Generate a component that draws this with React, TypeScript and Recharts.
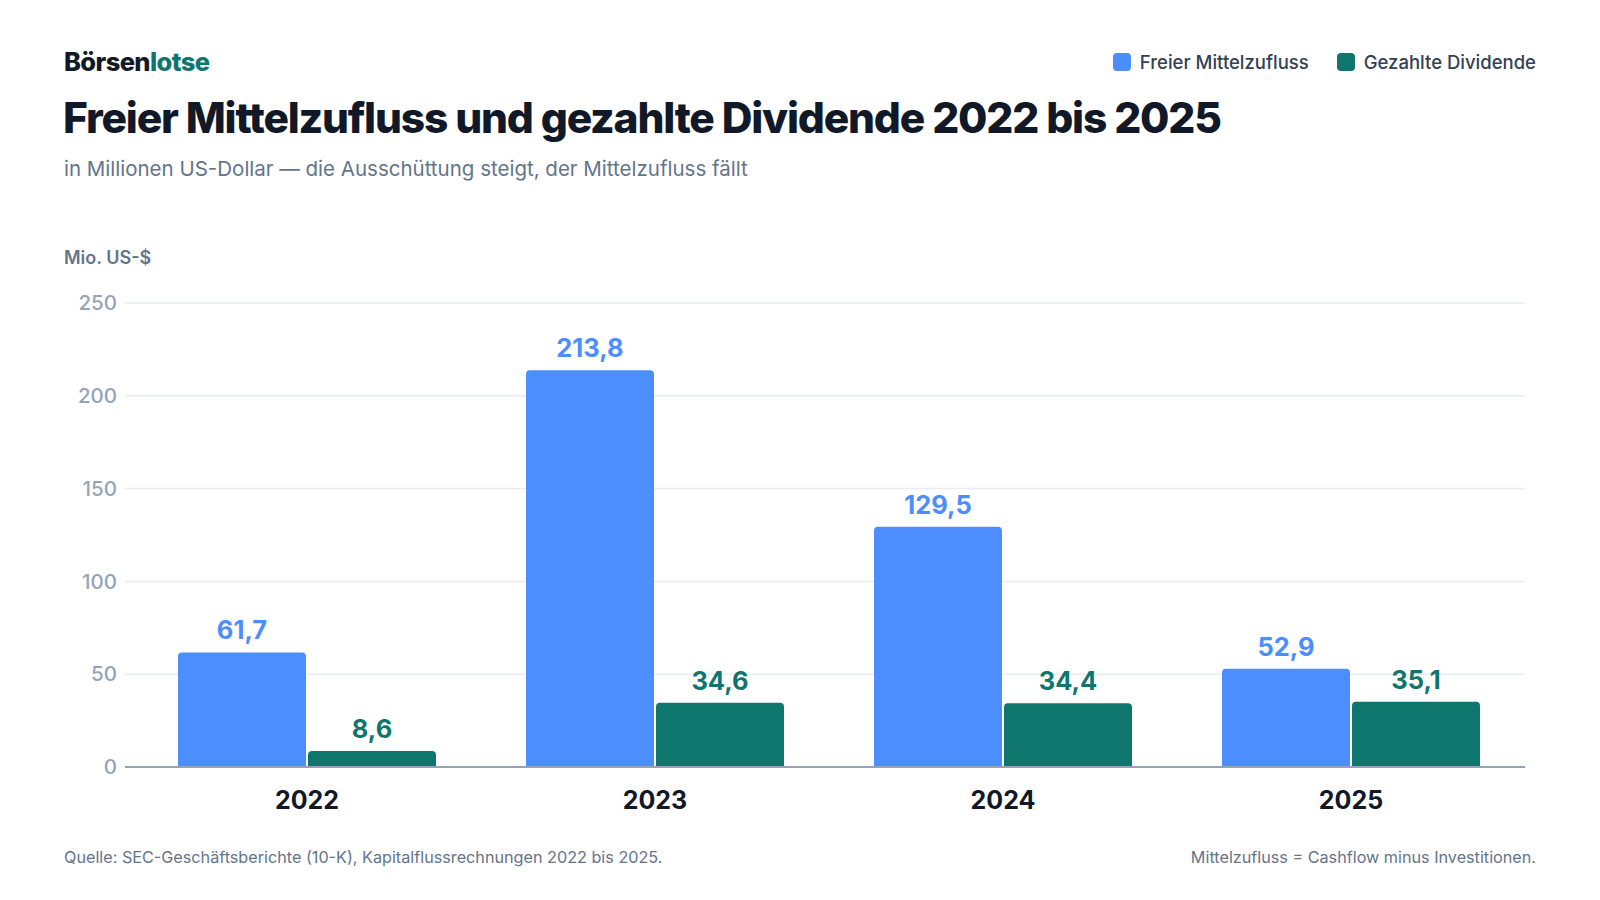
import { Bar, BarChart, CartesianGrid, LabelList, XAxis, YAxis } from "recharts";

const years = ["2022", "2023", "2024", "2025"];
const freeCashflow = [61.7, 213.8, 129.5, 52.9];
const dividends = [8.6, 34.6, 34.4, 35.1];
const yTicks = [0, 50, 100, 150, 200, 250];

const BLUE = "#4c8dff";
const GREEN = "#0f766e";
const FONT = "Inter, 'Noto Sans', sans-serif";

const data = years.map((year, i) => ({
  year,
  fcf: freeCashflow[i],
  div: dividends[i],
}));

const fmt = (v: number) => v.toFixed(1).replace(".", ",");

function LegendItem({ color, label }: { color: string; label: string }) {
  return (
    <div style={{ display: "flex", alignItems: "center", gap: 9 }}>
      <div style={{ width: 18, height: 18, borderRadius: 4, background: color }} />
      <span style={{ fontSize: 18.5, fontWeight: 500, color: "#334155" }}>{label}</span>
    </div>
  );
}

export default function App() {
  return (
    <div
      style={{
        position: "absolute",
        left: 0,
        top: 0,
        width: 1600,
        height: 900,
        background: "#ffffff",
        fontFamily: FONT,
        overflow: "hidden",
      }}
    >
      <div style={{ position: "absolute", left: 64, top: 46, fontSize: 25.5, fontWeight: 800, letterSpacing: -0.6, color: "#111827" }}>
        Börsen<span style={{ color: GREEN }}>lotse</span>
      </div>
      <div style={{ position: "absolute", right: 64, top: 51, display: "flex", gap: 28 }}>
        <LegendItem color={BLUE} label="Freier Mittelzufluss" />
        <LegendItem color={GREEN} label="Gezahlte Dividende" />
      </div>
      <div style={{ position: "absolute", left: 63, top: 92, fontSize: 42.5, fontWeight: 800, letterSpacing: -1.2, color: "#111827" }}>
        Freier Mittelzufluss und gezahlte Dividende 2022 bis 2025
      </div>
      <div style={{ position: "absolute", left: 64, top: 156, fontSize: 20.5, color: "#64748b" }}>
        in Millionen US-Dollar — die Ausschüttung steigt, der Mittelzufluss fällt
      </div>
      <div style={{ position: "absolute", left: 64, top: 247, fontSize: 18, fontWeight: 600, color: "#64748b" }}>
        Mio. US-$
      </div>

      <div style={{ position: "absolute", left: 0, top: 280 }}>
        <BarChart
          width={1600}
          height={560}
          data={data}
          margin={{ top: 23, right: 75, bottom: 23, left: 0 }}
          barCategoryGap={45}
          barGap={2}
        >
          <CartesianGrid vertical={false} stroke="#e9ecf1" strokeWidth={1.5} />
          <XAxis
            dataKey="year"
            padding={{ left: 8, right: 0 }}
            height={50}
            tickLine={false}
            tickMargin={18}
            axisLine={{ stroke: "#94a3b8", strokeWidth: 2 }}
            tick={{ fontSize: 25, fontWeight: 700, fill: "#111827", fontFamily: FONT }}
          />
          <YAxis
            width={125}
            domain={[0, 250]}
            ticks={yTicks}
            axisLine={false}
            tickLine={false}
            tick={{ fontSize: 20.5, fontWeight: 500, fill: "#94a3b8", fontFamily: FONT }}
          />
          <Bar dataKey="fcf" name="Freier Mittelzufluss" fill={BLUE} radius={[4, 4, 0, 0]} isAnimationActive={false}>
            <LabelList
              dataKey="fcf"
              position="top"
              offset={13}
              formatter={(v: number) => fmt(v)}
              style={{ fontSize: 25.5, fontWeight: 700, fill: BLUE, fontFamily: FONT }}
            />
          </Bar>
          <Bar dataKey="div" name="Gezahlte Dividende" fill={GREEN} radius={[4, 4, 0, 0]} isAnimationActive={false}>
            <LabelList
              dataKey="div"
              position="top"
              offset={13}
              formatter={(v: number) => fmt(v)}
              style={{ fontSize: 25.5, fontWeight: 700, fill: GREEN, fontFamily: FONT }}
            />
          </Bar>
        </BarChart>
      </div>

      <div style={{ position: "absolute", left: 64, top: 847, fontSize: 16.2, color: "#64748b" }}>
        Quelle: SEC-Geschäftsberichte (10-K), Kapitalflussrechnungen 2022 bis 2025.
      </div>
      <div style={{ position: "absolute", right: 64, top: 847, fontSize: 16.2, color: "#64748b" }}>
        Mittelzufluss = Cashflow minus Investitionen.
      </div>
    </div>
  );
}
